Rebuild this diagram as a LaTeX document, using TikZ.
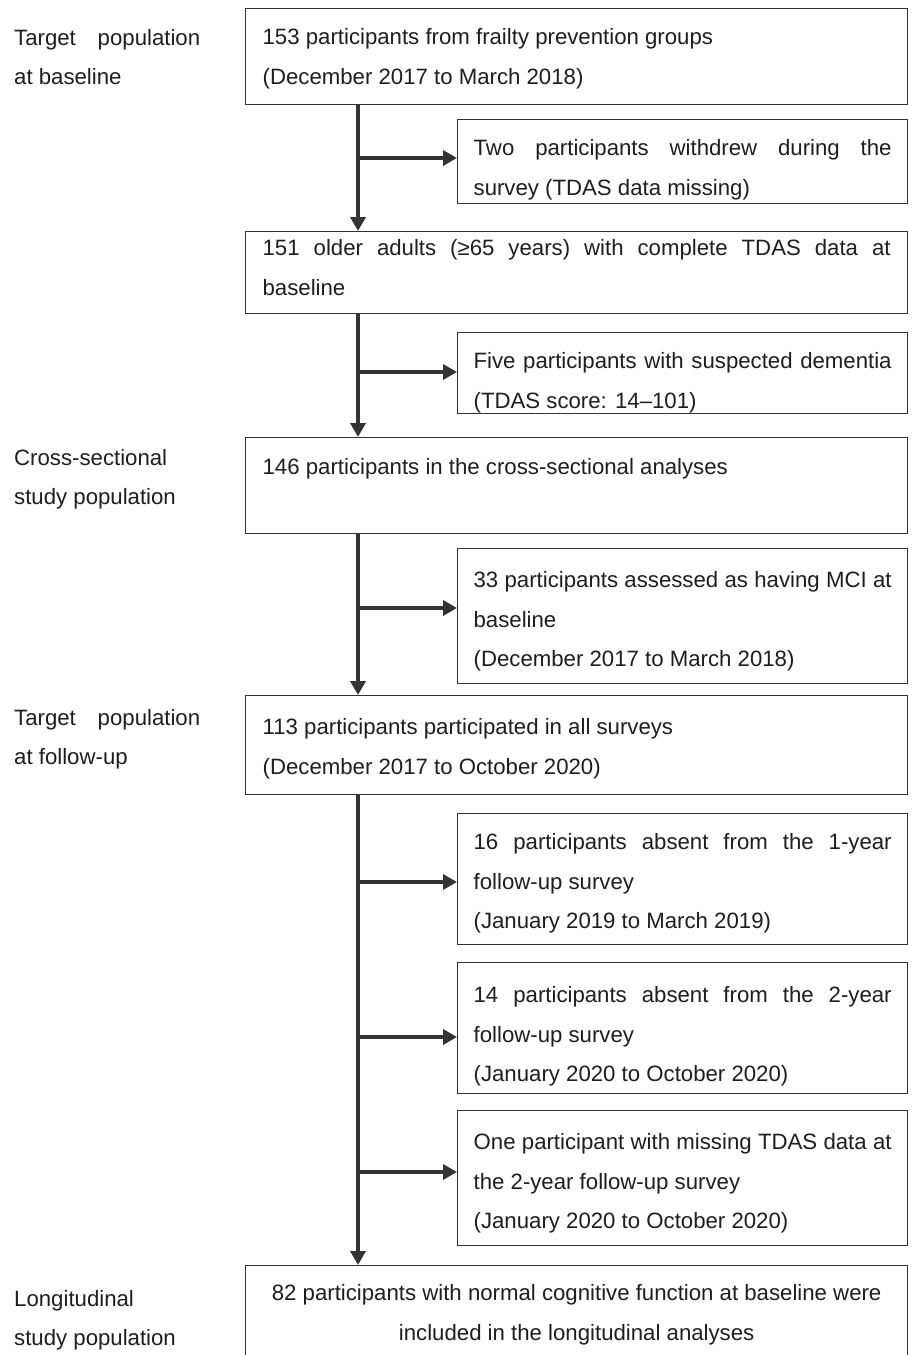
\documentclass[tikz,border=0pt]{standalone}
\usepackage{fontspec}
\setmainfont{Liberation Sans}
\usetikzlibrary{arrows.meta}
\definecolor{ink}{HTML}{1E1E1E}
\definecolor{linec}{HTML}{333333}
\newcommand{\jl}[1]{\makebox[\linewidth][s]{#1}}
\newcommand{\bt}[4]{\parbox[c][#1pt][t]{#2pt}{\rule{0pt}{#3pt}#4}}
\begin{document}
\begin{tikzpicture}[x=1pt,y=-1pt,
  every node/.style={font=\fontsize{22.2}{39.5}\selectfont, text=ink},
  box/.style={draw=linec, line width=1.3pt, inner ysep=0pt, anchor=north west},
  mainbox/.style={box, inner xsep=17pt},
  sidebox/.style={box, inner xsep=16pt},
  lab/.style={inner sep=0pt, anchor=base west},
  arr/.style={draw=linec, line width=3.8pt, -{Triangle[length=14pt,width=15pt]}}]
\useasboundingbox[fill=white] (0,0) rectangle (917,1355);

% left labels
\node[lab] (l1) at (14,45) {\parbox[t]{186pt}{\jl{Target population}\\at baseline}};
\node[lab] (l2) at (14,465) {\parbox[t]{186pt}{Cross-sectional\\study population}};
\node[lab] (l3) at (14,725) {\parbox[t]{186pt}{\jl{Target population}\\at follow-up}};
\node[lab] (l4) at (14,1306) {\parbox[t]{186pt}{Longitudinal\\study population}};

% main boxes
\node[mainbox] (b1) at (245,8) {\bt{96}{628}{36}{153 participants from frailty prevention groups\\(December 2017 to March 2018)}};
\node[mainbox] (b2) at (245,231) {\bt{82}{628}{24}{\jl{151 older adults (≥65 years) with complete TDAS data at}\\baseline}};
\node[mainbox] (b3) at (245,437) {\bt{96}{628}{37}{146 participants in the cross-sectional analyses}};
\node[mainbox] (b4) at (245,695) {\bt{99}{628}{39}{113 participants participated in all surveys\\(December 2017 to October 2020)}};
\node[mainbox] (b5) at (245,1265) {\bt{90}{628}{35}{\centering 82 participants with normal cognitive function at baseline were\\included in the longitudinal analyses}};

% side boxes
\node[sidebox] (s1) at (457,119) {\bt{84}{418}{36}{\jl{Two participants withdrew during the}\\survey (TDAS data missing)}};
\node[sidebox] (s2) at (457,332) {\bt{81}{418}{36}{\jl{Five participants with suspected dementia}\\(TDAS score: 14–101)}};
\node[sidebox] (s3) at (457,548) {\bt{135}{418}{39}{\jl{33 participants assessed as having MCI at}\\baseline\\(December 2017 to March 2018)}};
\node[sidebox] (s4) at (457,813) {\bt{131}{418}{36}{\jl{16 participants absent from the 1-year}\\follow-up survey\\(January 2019 to March 2019)}};
\node[sidebox] (s5) at (457,962) {\bt{131}{418}{40}{\jl{14 participants absent from the 2-year}\\follow-up survey\\(January 2020 to October 2020)}};
\node[sidebox] (s6) at (457,1110) {\bt{135}{418}{39}{\jl{One participant with missing TDAS data at}\\the 2-year follow-up survey\\(January 2020 to October 2020)}};

% trunk
\coordinate (tx) at (358,0);
\draw[arr] (b1.south -| tx) -- (b2.north -| tx);
\draw[arr] (b2.south -| tx) -- (b3.north -| tx);
\draw[arr] (b3.south -| tx) -- (b4.north -| tx);
\draw[arr] (b4.south -| tx) -- (b5.north -| tx);

% branches
\coordinate (j1) at (358,158);
\coordinate (j2) at (358,372);
\coordinate (j3) at (358,608);
\coordinate (j4) at (358,882);
\coordinate (j5) at (358,1037);
\coordinate (j6) at (358,1172);
\draw[arr] (j1) -- (j1 -| s1.west);
\draw[arr] (j2) -- (j2 -| s2.west);
\draw[arr] (j3) -- (j3 -| s3.west);
\draw[arr] (j4) -- (j4 -| s4.west);
\draw[arr] (j5) -- (j5 -| s5.west);
\draw[arr] (j6) -- (j6 -| s6.west);
\end{tikzpicture}
\end{document}
